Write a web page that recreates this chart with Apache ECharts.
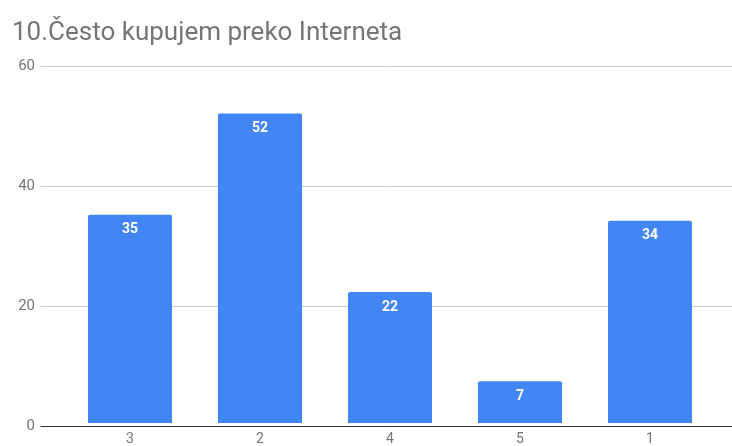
<!DOCTYPE html>
<html><head><meta charset="utf-8">
<script src="https://cdn.jsdelivr.net/npm/echarts@6/dist/echarts.min.js"></script>
<style>html,body{margin:0;padding:0;background:#fff}#c{width:732px;height:446px}</style>
</head><body><div id="c"></div>
<script>
const title = '10.Često kupujem preko Interneta';
const categories = ['3', '2', '4', '5', '1'];
const values = [35, 52, 22, 7, 34];
const yTicks = [0, 20, 40, 60];

const chart = echarts.init(document.getElementById('c'), null, {renderer: 'canvas'});
chart.setOption({
  animation: false,
  title: {text: title, left: 7, top: 15, textStyle: {fontFamily: 'Roboto', fontWeight: 'normal', fontSize: 26, color: '#757575'}},
  grid: [
    {left: 41, right: 0, top: 66, bottom: 20},
    {left: 65, width: 650, top: 66, bottom: 20}
  ],
  xAxis: [
    {gridIndex: 0, type: 'value', min: 0, max: 1, show: true, axisLabel: {show: false}, axisTick: {show: false}, splitLine: {show: false},
     axisLine: {show: true, onZero: false, lineStyle: {color: '#333', width: 1}}},
    {gridIndex: 1, type: 'category', data: categories, axisLine: {show: false}, axisTick: {show: false},
     axisLabel: {fontFamily: 'Roboto', fontSize: 14, color: '#757575', margin: 9}}
  ],
  yAxis: [
    {gridIndex: 0, type: 'value', min: yTicks[0], max: yTicks[yTicks.length-1], interval: 20,
     axisLine: {show: false}, axisTick: {show: false},
     axisLabel: {fontFamily: 'Roboto', fontSize: 15, color: '#757575', margin: 6},
     splitLine: {lineStyle: {color: '#cccccc'}}},
    {gridIndex: 1, type: 'value', min: 0, max: 60, interval: 20, show: false, splitLine: {show: false}}
  ],
  series: [{
    type: 'bar', xAxisIndex: 1, yAxisIndex: 1, data: values, barWidth: 84,
    itemStyle: {color: '#4285f4', borderRadius: [2, 2, 0, 0]},
    label: {show: true, position: 'insideTop', distance: 8, color: '#ffffff', fontFamily: 'Roboto', fontWeight: 'bold', fontSize: 14}
  }]
});
</script></body></html>
